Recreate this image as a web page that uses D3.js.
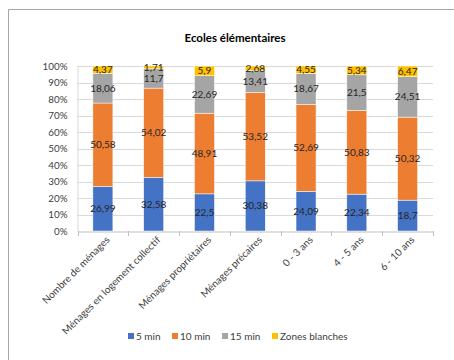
<!DOCTYPE html>
<html><head><meta charset="utf-8">
<script src="https://cdn.jsdelivr.net/npm/d3@7"></script>
<style>body{margin:0;background:#fff}svg{display:block}</style>
</head><body>
<script>
const categories = ["Nombre de ménages","Ménages en logement collectif","Ménages propriétaires","Ménages précaires","0 - 3 ans","4 - 5 ans","6 - 10 ans"];
const seriesNames = ["5 min","10 min","15 min","Zones blanches"];
const min5 = [26.99,32.58,22.5,30.38,24.09,22.34,18.7];
const min10 = [50.58,54.02,48.91,53.52,52.69,50.83,50.32];
const min15 = [18.06,11.7,22.69,13.41,18.67,21.5,24.51];
const zones = [4.37,1.71,5.9,2.68,4.55,5.34,6.47];
const yTicks = [0,10,20,30,40,50,60,70,80,90,100];
const colors = ["#4472C4","#ED7D31","#A5A5A5","#FFC000"];

const W=454,H=360;
const font="Lato, 'Open Sans', sans-serif";
const svg=d3.select("body").append("svg").attr("width",W).attr("height",H);
// frame
svg.append("path").attr("d",`M8.5,${H} V9.5 H${W}`).attr("fill","none").attr("stroke","#a6a6a6").attr("stroke-width",1);

svg.append("text").attr("x",235).attr("y",42).attr("text-anchor","middle")
  .attr("font-family",font).attr("font-weight","bold").attr("font-size",11.5).attr("fill","#000")
  .text("Ecoles élémentaires");

const x0=77.5,x1=433,y0=231,y1=66;
const x=d3.scaleBand().domain(categories).range([x0,x1]).paddingInner(0).paddingOuter(0);
const y=d3.scaleLinear().domain([0,100]).range([y0,y1]);

// gridlines
svg.append("g").selectAll("line").data(yTicks.filter(d=>d>0)).join("line")
  .attr("x1",x0).attr("x2",x1).attr("y1",d=>Math.round(y(d))+0.5).attr("y2",d=>Math.round(y(d))+0.5)
  .attr("stroke","#d9d9d9").attr("stroke-width",1);

// y axis labels
const yAxis=d3.axisLeft(y).tickValues(yTicks).tickFormat(d=>d+"%").tickSize(0).tickPadding(10);
const ga=svg.append("g").attr("transform",`translate(${x0},0)`).call(yAxis);
ga.select(".domain").attr("stroke","#d9d9d9");
ga.selectAll("text").attr("font-family",font).attr("font-size",9.8).attr("fill","#404040");

const data=categories.map((c,i)=>({c,vals:[min5[i],min10[i],min15[i],zones[i]]}));
const stackData=data.map(d=>{const o={c:d.c};seriesNames.forEach((s,j)=>o[s]=d.vals[j]);return o;});
const stacked=d3.stack().keys(seriesNames)(stackData);
const bw=20;
stacked.forEach((layer,j)=>{
  const g=svg.append("g");
  g.selectAll("rect").data(layer).join("rect")
    .attr("x",d=>x(d.data.c)+x.bandwidth()/2-bw/2).attr("width",bw)
    .attr("y",d=>y(d[1])).attr("height",d=>y(d[0])-y(d[1]))
    .attr("fill",colors[j]).attr("stroke","#fff").attr("stroke-width",0.5);
});
stacked.forEach((layer,j)=>{
  svg.append("g").selectAll("text").data(layer).join("text")
    .attr("x",d=>x(d.data.c)+x.bandwidth()/2).attr("y",d=>y((d[0]+d[1])/2))
    .attr("dy","0.35em").attr("text-anchor","middle")
    .attr("font-family",font).attr("font-size",10).attr("fill","#262626")
    .text(d=>String(d.data[layer.key]).replace(".",","));
});

// x axis
const xAxis=d3.axisBottom(x).tickSize(0).tickFormat("");
const gx=svg.append("g").attr("transform",`translate(0,${y0+0.5})`).call(xAxis);
gx.select(".domain").attr("stroke","#bfbfbf");
const bounds=categories.map(c=>x(c)).concat([x1]);
svg.append("g").selectAll("line").data(bounds).join("line")
  .attr("x1",d=>Math.round(d)+0.5).attr("x2",d=>Math.round(d)+0.5).attr("y1",y0).attr("y2",y0+5)
  .attr("stroke","#bfbfbf");
svg.append("g").selectAll("text").data(categories).join("text")
  .attr("transform",c=>`translate(${x(c)+x.bandwidth()/2+5},${y0+7}) rotate(-45)`)
  .attr("text-anchor","end").attr("dy","0.35em")
  .attr("font-family",font).attr("font-size",10).attr("fill","#404040").text(c=>c);

// legend
const legendX=[128,172,222,272];
const lg=svg.append("g");
seriesNames.forEach((s,j)=>{
  lg.append("rect").attr("x",legendX[j]).attr("y",333).attr("width",6).attr("height",6).attr("fill",colors[j]);
  lg.append("text").attr("x",legendX[j]+8).attr("y",336).attr("dy","0.35em")
    .attr("font-family",font).attr("font-size",10).attr("fill","#404040").text(s);
});
</script>
</body></html>
